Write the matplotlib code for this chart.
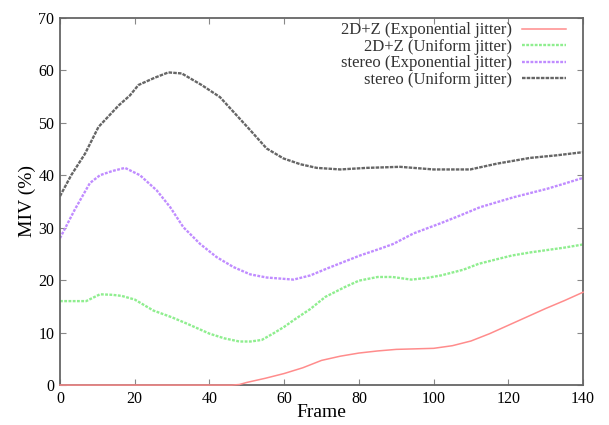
import matplotlib
matplotlib.use("Agg")
from matplotlib import pyplot as plt

plt.rcParams['font.family'] = ['Liberation Serif', 'DejaVu Serif']

# 2D+Z (Exponential jitter)
exp2d_x = [0, 10, 20, 30, 40, 46, 48, 50, 55, 60, 65, 70, 75, 80, 85, 90, 95, 100, 105, 110, 115, 120, 125, 130, 135, 140]
exp2d_y = [0, 0, 0, 0, 0, 0, 0.1, 0.5, 1.3, 2.2, 3.3, 4.7, 5.5, 6.1, 6.5, 6.8, 6.9, 7.0, 7.5, 8.4, 9.8, 11.4, 13.0, 14.6, 16.1, 17.7]

# 2D+Z (Uniform jitter)
uni2d_x = [0, 4, 7, 10.7, 14, 16.5, 20, 25, 30, 34, 40, 44, 48, 51, 54, 57, 60, 63, 67, 71, 76, 80, 85, 89, 94, 98, 102, 108, 112, 117, 121, 126, 130, 135, 140]
uni2d_y = [16.0, 16.0, 16.0, 17.3, 17.2, 17.0, 16.3, 14.2, 12.9, 11.7, 9.8, 8.9, 8.3, 8.3, 8.6, 9.8, 11.1, 12.6, 14.5, 16.8, 18.6, 19.9, 20.6, 20.6, 20.1, 20.4, 20.9, 22.0, 23.1, 24.0, 24.7, 25.3, 25.7, 26.2, 26.8]

# stereo (Exponential jitter)
exp3d_x = [0, 4, 8, 10.7, 14, 17.4, 21.4, 25.9, 29.5, 33, 37.5, 41.9, 46.4, 50.9, 55.3, 58.9, 62.5, 67, 71.4, 80.3, 85.7, 89.2, 94.6, 101.7, 107, 112.4, 121.4, 130.3, 135, 140]
exp3d_y = [28.0, 33.5, 38.5, 40.0, 40.8, 41.4, 40.0, 37.1, 33.9, 30.1, 26.9, 24.4, 22.5, 21.1, 20.5, 20.3, 20.1, 20.9, 22.2, 24.7, 26.0, 26.9, 28.9, 30.8, 32.3, 33.9, 35.8, 37.4, 38.4, 39.5]

# stereo (Uniform jitter)
uni3d_x = [0, 3, 6.7, 10.3, 15.7, 18.7, 21, 25.4, 29, 32.6, 37.9, 42.8, 46.4, 50.9, 55.3, 59.8, 64.3, 68.7, 75, 82.1, 91, 100, 109.8, 116.9, 125.8, 133, 140]
uni3d_y = [36.0, 40.0, 44.1, 49.2, 53.3, 55.2, 57.2, 58.6, 59.6, 59.4, 57.2, 54.9, 52.1, 48.6, 45.1, 43.2, 42.1, 41.4, 41.1, 41.4, 41.6, 41.1, 41.1, 42.2, 43.3, 43.8, 44.4]

fig = plt.figure(figsize=(6.09, 4.25), dpi=100)
ax = fig.add_axes([0.0985, 0.094, 0.859, 0.864])

ax.plot(exp2d_x, exp2d_y, color="#ff8c8c", lw=1.1, clip_on=False, zorder=5, label="2D+Z (Exponential jitter)")
ax.plot(uni2d_x, uni2d_y, color="#8fee8f", lw=1.7, ls=(0, (1.2, 0.6)), label="2D+Z (Uniform jitter)")
ax.plot(exp3d_x, exp3d_y, color="#c08cff", lw=1.7, ls=(0, (1.2, 0.6)), label="stereo (Exponential jitter)")
ax.plot(uni3d_x, uni3d_y, color="#666666", lw=1.7, ls=(0, (1.5, 0.5)), label="stereo (Uniform jitter)")

ax.set_xlim(0, 140)
ax.set_ylim(0, 70)
ax.set_xticks(range(0, 141, 20))
ax.set_yticks(range(0, 71, 10))
ax.tick_params(direction="in", top=True, right=True, labelsize=11.5, length=4, color="#888888", pad=4)
for s in ax.spines.values():
    s.set_color("#666666")
    s.set_linewidth(1.3)

ax.set_xlabel("Frame", fontsize=14, labelpad=-2)
ax.set_ylabel("MIV (%)", fontsize=14, labelpad=2)

leg = ax.legend(loc="upper right", frameon=False, markerfirst=False, fontsize=12,
                handlelength=2.6, handletextpad=0.6, labelspacing=0.03,
                borderaxespad=0.2, bbox_to_anchor=(0.986, 1.015))
for t in leg.get_texts():
    t.set_color("#333333")

plt.savefig("out.png")
